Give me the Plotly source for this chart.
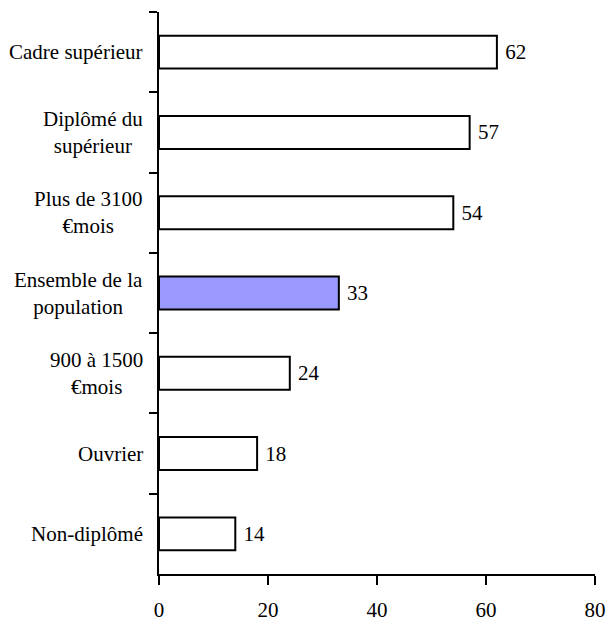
import plotly.graph_objects as go

# categories (top to bottom) and values
categories = ['Cadre supérieur', 'Diplômé du<br>supérieur', 'Plus de 3100<br>€mois',
              'Ensemble de la<br>population', '900 à 1500<br>€mois', 'Ouvrier', 'Non-diplômé']
values = [62, 57, 54, 33, 24, 18, 14]
highlight = 'Ensemble de la<br>population'

x_ticks = [0, 20, 40, 60, 80]

colors = ['#9999FF' if c == highlight else 'white' for c in categories]
fnt = dict(family='"Times New Roman", "Liberation Serif", "DejaVu Serif", serif', size=21, color='black')

fig = go.Figure(go.Bar(
    x=values, y=categories, orientation='h',
    marker=dict(color=colors, line=dict(color='black', width=2)),
    width=0.41,
    text=[' ' + str(v) for v in values], textposition='outside',
    textfont=fnt, cliponaxis=False,
))

# y labels as annotations: block right-aligned, lines centred
for c in categories:
    fig.add_annotation(x=0, xref='paper', y=c, yref='y', text=c, showarrow=False,
                       xanchor='right', align='center', xshift=-14, font=fnt)

fig.update_layout(
    template='none',
    width=610, height=621,
    margin=dict(l=159, r=15, t=12, b=47, autoexpand=False),
    plot_bgcolor='white', paper_bgcolor='white',
    showlegend=False, font=fnt,
)
fig.update_xaxes(range=[0, 80], tickvals=x_ticks, showgrid=False, zeroline=False,
                 showline=True, linecolor='black', linewidth=2, automargin=False,
                 ticks='outside', ticklen=9, tickwidth=2, tickcolor='black',
                 ticklabelstandoff=7, tickfont=fnt)
fig.update_yaxes(autorange='reversed', showgrid=False, showline=True, linecolor='black',
                 linewidth=2, ticks='outside', ticklen=8, tickwidth=2, tickcolor='black',
                 tickson='boundaries', showticklabels=False, automargin=False)

# page has a default 8px body margin; remove it so the figure fills the window
fig.write_html('out.html', config={'displayModeBar': False},
               post_script="document.body.style.margin='0';")
